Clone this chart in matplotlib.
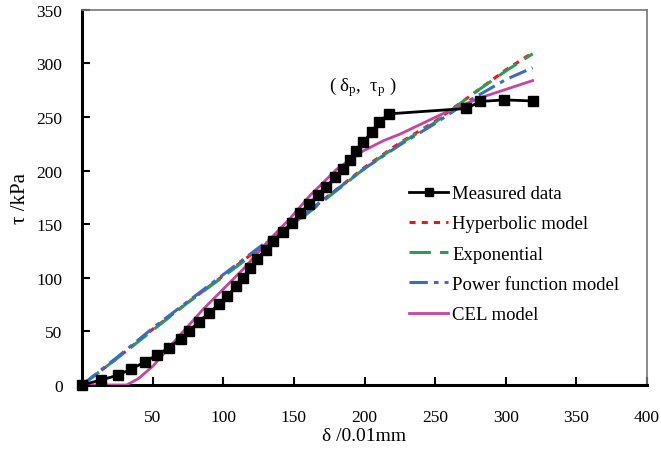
import matplotlib
matplotlib.use('Agg')
import matplotlib.pyplot as plt

plt.rcParams['font.family'] = ['Liberation Serif', 'DejaVu Serif']
plt.rcParams['mathtext.fontset'] = 'custom'
plt.rcParams['mathtext.rm'] = 'Liberation Serif'
plt.rcParams['mathtext.it'] = 'Liberation Serif:italic'

# measured data
delta_meas = [0, 13.7, 25.7, 35, 44.5, 53, 61.6, 70, 76, 82.5, 90, 97, 103, 109, 114, 119, 124,
              130, 135, 142.5, 149, 154.5, 161, 167, 173, 179, 184.5, 190, 194, 199, 205, 210,
              217.5, 272, 282, 299, 319]
tau_meas = [0, 4.7, 9.3, 15, 21.5, 28, 34.8, 43, 50, 59, 67, 75.5, 83, 92, 99.5, 109, 118,
            126, 134.5, 143, 151, 160.5, 169, 177, 184.5, 194, 201.5, 210, 218.5, 226.5, 236, 245,
            253, 258, 264.5, 266, 265]

# fitted models
delta_fit = [0, 25, 50, 75, 100, 125, 150, 175, 200, 225, 250, 275, 300, 319]
tau_hyp = [0, 25, 52, 77, 102, 127, 151, 177, 203, 226, 246, 270, 294, 310]
tau_exp = [0, 25, 51, 77, 101, 126, 150, 176, 202, 225, 245, 270, 293, 309]
tau_pow = [0, 26, 53, 78, 103, 128, 152, 177, 202, 224, 244, 266, 285, 296]

delta_cel = [0, 20, 31.5, 40, 50.5, 67, 86, 100, 114, 133, 147, 161.5, 180.5, 197, 213.5, 225,
             260, 282, 319]
tau_cel = [0, 0, 0, 6, 18, 43, 71, 89.5, 108, 136, 155, 177, 201.5, 217, 228, 234, 256, 268, 284]

x_ticks = [50, 100, 150, 200, 250, 300, 350, 400]
y_ticks = [0, 50, 100, 150, 200, 250, 300, 350]

fig = plt.figure(figsize=(6.61, 4.52), dpi=100)
ax = fig.add_axes([0.124, 0.146, 0.855, 0.830])

ax.plot(delta_meas, tau_meas, color='black', lw=2, marker='s', ms=6.5, label='Measured data',
        zorder=5, clip_on=False)
ax.plot(delta_fit, tau_hyp, color='#ff1010', lw=2.2, ls=(0, (2, 2)), label='Hyperbolic model')
ax.plot(delta_fit, tau_exp, color='#2e9b5a', lw=2.2, ls=(0, (7, 3)), label='Exponential')
ax.plot(delta_fit, tau_pow, color='#3a6cc0', lw=2.2, ls=(0, (6, 2, 1.5, 2)), label='Power function model')
ax.plot(delta_cel, tau_cel, color='#c8449e', lw=2, label='CEL model', zorder=4)

ax.set_xlim(0, 400)
ax.set_ylim(0, 350)
ax.set_xticks(x_ticks)
ax.set_yticks(y_ticks)
ax.tick_params(axis='x', direction='in', length=6, width=1.5, pad=17, labelsize=12.5)
ax.tick_params(axis='y', direction='in', length=6, width=1.5, pad=14, labelsize=12.5)

for s in ['left', 'bottom']:
    ax.spines[s].set_linewidth(2.2)
    ax.spines[s].set_color('black')
for s in ['top', 'right']:
    ax.spines[s].set_linewidth(1.2)
    ax.spines[s].set_color('#777777')

ax.set_xlabel('δ /0.01mm', fontsize=14, labelpad=2)
ax.set_ylabel('τ /kPa', fontsize=15, labelpad=5)

ax.text(199, 268, '( δ$_\\mathregular{p}$,  τ$_\\mathregular{p}$ )', fontsize=13.5, ha='center', va='bottom')

ax.legend(loc='upper left', bbox_to_anchor=(0.562, 0.558), frameon=False, fontsize=13.5,
          handlelength=2.1, handletextpad=0.2, labelspacing=0.7, borderpad=0,
          numpoints=1, markerscale=0.8)

fig.savefig('out.png', dpi=100)
